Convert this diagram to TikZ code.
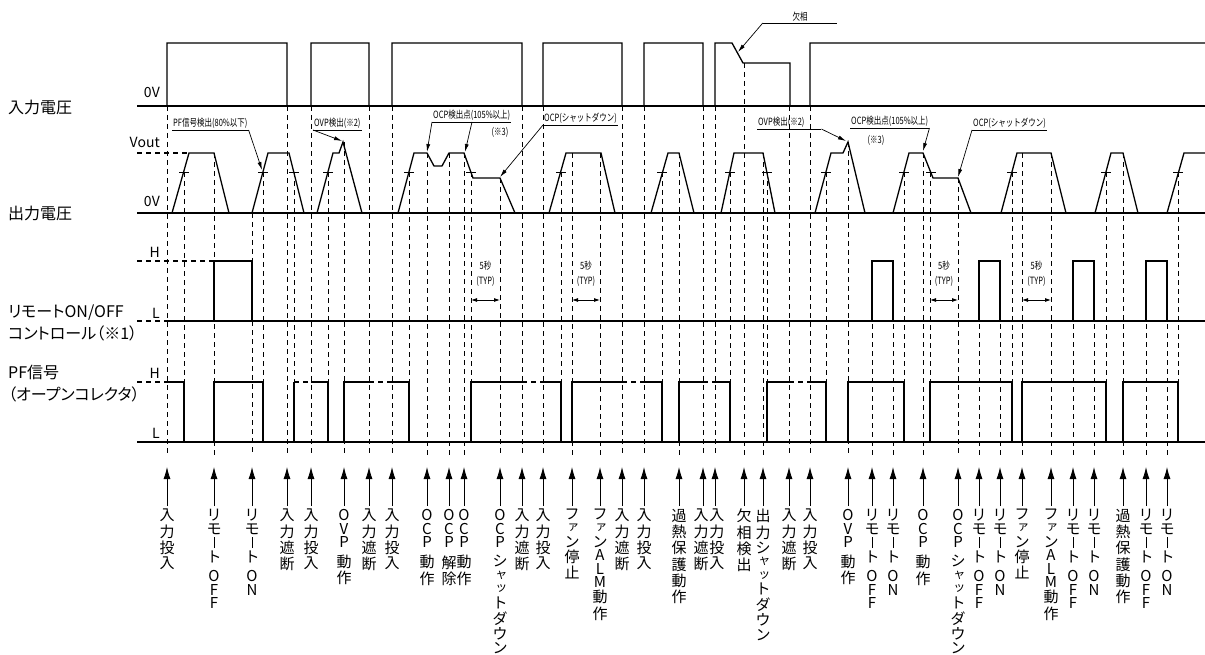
\documentclass[tikz,border=0pt]{standalone}
\usepackage{fontspec}
\usepackage{graphicx}
\usetikzlibrary{arrows.meta}
\setmainfont{Noto Sans CJK JP}
\newfontfamily\jpprop[RawFeature=+palt]{Noto Sans CJK JP}
\newfontfamily\jpnarrow[FakeStretch=0.75]{Noto Sans CJK JP}

\newcommand\vg{}
\newcommand\vbar{\rule{1pt}{11pt}}
\newcommand\sk[1]{\vbox to 11pt{\vss\hbox{\kern2.5pt\fontsize{12}{12}\selectfont#1}\vss}}
\newcommand\sya{\sk{ャ}}
\newcommand\tsu{\sk{ッ}}
\newcommand\fa{\sk{ァ}}
\def\vtext#1{\vbox{\offinterlineskip\vtextA#1\relax}}
\def\vtextA#1{\ifx\relax#1\else\ifx\vg#1\kern5pt\relax\else\hbox to 16pt{\hss#1\hss}\kern2.5pt\relax\fi\expandafter\vtextA\fi}

\tikzset{lab703/.style={xshift=-1.8pt}, lab715/.style={xshift=1.8pt}}

\begin{document}
\begin{tikzpicture}[
    x=1pt, y=-1pt,
    wave/.style={line width=1.3pt, line join=miter},
    hdash/.style={line width=1.1pt, dash pattern=on 5pt off 4pt},
    guide/.style={line width=0.8pt, dash pattern=on 5pt off 4pt},
    tick/.style={line width=0.8pt},
    evt/.style={-{Latex[length=12pt,width=7pt]}, line width=0.8pt},
    ann/.style={-{Latex[length=8pt,width=4pt]}, line width=0.7pt},
    dim/.style={{Latex[length=6pt,width=4pt]}-{Latex[length=6pt,width=4pt]}, line width=0.8pt},
    note/.style={font=\jpnarrow\fontsize{10}{12}\selectfont, inner xsep=1pt, inner ysep=1.5pt},
    sig/.style={font=\jpprop\fontsize{16}{22}\selectfont, inner sep=0pt},
    lvl/.style={font=\fontsize{14}{16}\selectfont, inner sep=0pt, anchor=base east},
    vlab/.style={font=\fontsize{15}{15}\selectfont, anchor=north, inner sep=3pt}
  ]
    \useasboundingbox (0,0) rectangle (1205,655);

    % signal names and levels
    \node[sig, anchor=west] (vin) at (8,107) {入力電圧};
    \node[sig, anchor=west] (vout) at (8,213) {出力電圧};
    \node[sig, anchor=west, align=left] (rc) at (8,323) {リモートON/OFF\\コントロール（※1）};
    \node[sig, anchor=west, align=left] (pf) at (8,384) {PF信号\\（オープンコレクタ）};
    \node[lvl] (vin0) at (160,98) {0V};
    \node[lvl] (voutv) at (160,148) {Vout};
    \node[lvl] (vout0) at (160,207) {0V};
    \node[lvl] (rch) at (160,258) {H};
    \node[lvl] (rcl) at (160,318) {L};
    \node[lvl] (pfh) at (160,378) {H};
    \node[lvl] (pfl) at (160,438) {L};

    % guides
    \foreach \x/\a/\b in {167/106/455, 184/172/442, 214/153/455, 252/213/455, 263/172/442,
        287/106/455, 294/172/442, 311/106/455, 328/172/442, 344/142/455, 369/106/455,
        392/106/455, 409/172/442, 427/153/455, 449/153/455, 464/153/455, 471/172/442,
        500/178/455, 522/106/455, 543/106/455, 561/172/442, 572/153/455, 600/153/455,
        622/106/455, 644/106/455, 662/172/442, 679/153/455, 703/106/455, 715/106/455,
        730/172/442, 744/63/455, 763/153/455, 767/172/442, 789/106/455, 810/106/455,
        826/172/442, 848/142/455, 872/261/455, 893/261/455, 904/172/442, 923/153/455,
        930/172/442, 958/178/455, 979/261/455, 1000/261/455, 1012/172/442, 1022/153/455,
        1051/153/455, 1073/261/455, 1094/261/455, 1106/172/442, 1123/153/455,
        1146/261/455, 1167/261/455, 1178/172/442}
      \draw[guide] (\x,\a) -- (\x,\b);

    % input voltage
    \draw[wave] (137,106) -- (1205,106);
    \draw[wave] (167,106) -- (167,43) -- (287,43) -- (287,106)
      (311,106) -- (311,43) -- (369,43) -- (369,106)
      (392,106) -- (392,43) -- (522,43) -- (522,106)
      (543,106) -- (543,43) -- (622,43) -- (622,106)
      (644,106) -- (644,43) -- (703,43) -- (703,106)
      (715,106) -- (715,43) -- (732,43) -- (743,63) -- (790,63) -- (790,106)
      (810,106) -- (810,43) -- (1205,43);

    % output voltage
    \draw[hdash] (137,153) -- (189,153);
    \draw[wave] (137,213) -- (1205,213);
    \draw[wave] (172,213) -- (189,153) -- (214,153) -- (229,213)
      (252,213) -- (268,153) -- (289,153) -- (304,213)
      (317,213) -- (333,153) -- (339,153) -- (343,142) -- (362,213)
      (398,213) -- (414,153) -- (427,153) -- (434,166) -- (442,166) -- (449,153)
        -- (464,153) -- (473,178) -- (500,178) -- (515,213)
      (549,213) -- (566,153) -- (601,153) -- (615,213)
      (651,213) -- (668,153) -- (679,153) -- (694,213)
      (721,213) -- (734,153) -- (763,153) -- (775,213)
      (815,213) -- (831,153) -- (843,153) -- (848,142) -- (865,213)
      (893,213) -- (909,153) -- (923,153) -- (933,178) -- (958,178) -- (971,213)
      (1001,213) -- (1017,153) -- (1051,153) -- (1066,213)
      (1095,213) -- (1111,153) -- (1123,153) -- (1138,213)
      (1167,213) -- (1184,153) -- (1205,153);
    \foreach \x in {184,263,294,328,409,471,561,662,730,767,826,904,931,1012,1106,1178}
      \draw[tick] (\x-5,172) -- (\x+5,172);

    % remote on/off
    \draw[hdash] (137,261) -- (214,261);
    \draw[hdash] (137,321) -- (167,321);
    \draw[wave] (167,321) -- (1205,321);
    \foreach \a/\b in {214/252, 872/893, 979/1000, 1073/1094, 1146/1167}
      \draw[wave] (\a,321) -- (\a,261) -- (\b,261) -- (\b,321);

    % PF signal
    \draw[wave] (137,442) -- (1205,442);
    \foreach \a/\b in {137/167, 294/311, 369/392, 522/543, 622/644, 703/715, 789/810}
      \draw[hdash] (\a,382) -- (\b,382);
    \draw[wave] (167,382) -- (184,382) -- (184,442)
      (214,442) -- (214,382) -- (263,382) -- (263,442)
      (294,442) -- (294,382)
      (311,382) -- (328,382) -- (328,442)
      (344,442) -- (344,382) -- (369,382)
      (392,382) -- (409,382) -- (409,442)
      (471,442) -- (471,382) -- (522,382)
      (543,382) -- (561,382) -- (561,442)
      (572,442) -- (572,382) -- (622,382)
      (644,382) -- (662,382) -- (662,442)
      (679,442) -- (679,382) -- (703,382)
      (715,382) -- (730,382) -- (730,442)
      (767,442) -- (767,382) -- (789,382)
      (810,382) -- (826,382) -- (826,442)
      (848,442) -- (848,382) -- (904,382) -- (904,442)
      (930,442) -- (930,382) -- (1012,382) -- (1012,442)
      (1022,442) -- (1022,382) -- (1106,382) -- (1106,442)
      (1123,442) -- (1123,382) -- (1178,382) -- (1178,442);

    % 5 s (TYP)
    \foreach \a/\b [count=\i] in {471/500, 572/600, 930/958, 1022/1051} {
      \node[note, align=center, font=\jpnarrow\fontsize{10}{15}\selectfont] (typ\i) at ({(\a+\b)/2},274) {5秒\\(TYP)};
      \coordinate (ta\i) at (\a,300);
      \coordinate (tb\i) at (\b,300);
      \draw[dim] (ta\i) -- (tb\i);
    }

    % annotations
    \node[note, anchor=south west] (pfdet) at (172,130) {PF信号検出(80\%以下)};
    \node[note, anchor=south west] (ovpa) at (313,130) {OVP検出(※2)};
    \node[note, anchor=south west] (ocpa) at (432,122) {OCP検出点(105\%以上)};
    \node[note] (ocpna) at (500,132) {(※3)};
    \node[note, anchor=south west] (sda) at (543,125) {OCP(シャットダウン)};
    \node[note, anchor=south, minimum width=74pt] (kesso) at (800,23) {欠相};
    \node[note, anchor=south west, text width=62pt, align=left] (ovpb) at (757,129) {OVP検出(※2)};
    \node[note, anchor=south west] (ocpb) at (850,128) {OCP検出点(105\%以上)};
    \node[note] (ocpnb) at (876,140) {(※3)};
    \node[note, anchor=south west] (sdb) at (972,130) {OCP(シャットダウン)};
    \foreach \n in {pfdet, ovpa, ocpa, sda, kesso, ovpb, ocpb, sdb}
      \draw[line width=0.7pt] (\n.south west) -- (\n.south east);

    \coordinate (pft) at (262,170);
    \coordinate (ovpt) at (342,141);
    \coordinate (ocpm) at (472,122);
    \coordinate (ocpt) at (427,152);
    \coordinate (ocpu) at (465,152);
    \coordinate (sdt) at (500,177);
    \coordinate (kst) at (738,52);
    \coordinate (ovpu) at (846,141);
    \coordinate (ocpv) at (923,151);
    \coordinate (sdu) at (958,177);
    \draw[ann] (pfdet.south east) -- (pft);
    \draw[ann] (ovpa.south west) -- (ovpt);
    \draw[ann] (ocpa.south west) -- (ocpt);
    \draw[ann] (ocpm) -- (ocpu);
    \draw[ann] (sda.south west) -- (sdt);
    \draw[ann] (kesso.south west) -- (kst);
    \draw[ann] (ovpb.south east) -- (ovpu);
    \draw[ann] (ocpb.south east) -- (ocpv);
    \draw[ann] (sdb.south west) -- (sdu);

    % events
    \foreach \x/\t [count=\i] in {167/入力投入, 214/リモ\vbar ト\vg OFF, 252/リモ\vbar ト\vg ON,
        287/入力遮断, 311/入力投入, 344/OVP\vg 動作, 369/入力遮断, 392/入力投入,
        427/OCP\vg 動作, 449/OCP\vg 解除, 464/OCP\vg 動作, 500/OCP\vg シ\sya\tsu トダウン,
        522/入力遮断, 543/入力投入, 572/フ\fa ン停止, 600/フ\fa ンALM動作, 622/入力遮断,
        644/入力投入, 679/過熱保護動作, 703/入力遮断, 715/入力投入, 744/欠相検出,
        763/出力シ\sya\tsu トダウン, 789/入力遮断, 810/入力投入, 848/OVP\vg 動作,
        872/リモ\vbar ト\vg OFF, 893/リモ\vbar ト\vg ON, 923/OCP\vg 動作,
        958/OCP\vg シ\sya\tsu トダウン, 979/リモ\vbar ト\vg OFF, 1000/リモ\vbar ト\vg ON,
        1022/フ\fa ン停止, 1051/フ\fa ンALM動作, 1073/リモ\vbar ト\vg OFF,
        1094/リモ\vbar ト\vg ON, 1123/過熱保護動作, 1146/リモ\vbar ト\vg OFF,
        1167/リモ\vbar ト\vg ON} {
      \node[vlab, lab\x/.try] (lab\i) at (\x,506) {\expandafter\vtext\expandafter{\t}};
      \coordinate (tip\i) at (\x,467);
      \draw[evt] (lab\i.north -| tip\i) -- (tip\i);
    }
  \end{tikzpicture}
\end{document}
